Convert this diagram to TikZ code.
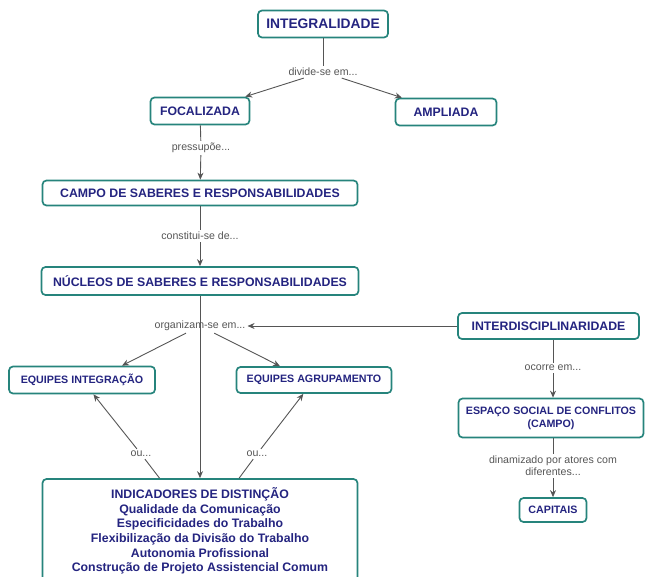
\documentclass[tikz,border=0pt]{standalone}
\usepackage{fontspec}
\setmainfont{Liberation Sans}
\usetikzlibrary{arrows.meta}

\definecolor{boxline}{RGB}{38,132,124}
\definecolor{boxtext}{RGB}{36,36,128}
\definecolor{linkgray}{RGB}{85,85,85}

\begin{document}
\begin{tikzpicture}[x=1pt,y=-1pt,
    concept/.style={draw=boxline, line width=1.7pt, rounded corners=4pt, fill=white,
        text=boxtext, font=\fontsize{12.3}{14.6}\selectfont\bfseries, align=center,
        inner sep=0pt, minimum height=27pt},
    small/.style={font=\fontsize{10.7}{13}\selectfont\bfseries},
    linktext/.style={text=linkgray, font=\fontsize{10.6}{12}\selectfont, align=center, inner sep=2pt},
    link/.style={draw=linkgray, line width=0.9pt},
    arrow/.style={link, -{Stealth[length=7pt,width=6pt]}}]
        \useasboundingbox (0,0) rectangle (647,577);

        % concepts
        \node[concept, minimum width=130pt, font=\fontsize{13.8}{16}\selectfont\bfseries] (integ) at (323,24) {INTEGRALIDADE};
        \node[concept, minimum width=99pt] (foc) at (200,111) {FOCALIZADA};
        \node[concept, minimum width=101pt] (amp) at (446,112) {AMPLIADA};
        \node[concept, minimum width=315pt, minimum height=25pt] (campo) at (200,193) {CAMPO DE SABERES E RESPONSABILIDADES};
        \node[concept, minimum width=317pt, minimum height=28pt] (nucleos) at (200,281) {N\'UCLEOS DE SABERES E RESPONSABILIDADES};
        \node[concept, small, minimum width=146pt] (eqint) at (82,380) {EQUIPES INTEGRA\c{C}\~AO};
        \node[concept, small, minimum width=155pt, minimum height=26pt] (eqagr) at (314,380) {EQUIPES AGRUPAMENTO};
        \node[concept, minimum width=315pt, minimum height=104pt] (indic) at (200,531)
            {INDICADORES DE DISTIN\c{C}\~AO\\Qualidade da Comunica\c{c}\~ao\\Especificidades do Trabalho\\
             Flexibiliza\c{c}\~ao da Divis\~ao do Trabalho\\Autonomia Profissional\\Constru\c{c}\~ao de Projeto Assistencial Comum};
        \node[concept, minimum width=181pt, minimum height=26pt] (inter) at (548.5,326) {INTERDISCIPLINARIDADE};
        \node[concept, small, minimum width=185pt, minimum height=39pt] (espaco) at (551,418) {ESPA\c{C}O SOCIAL DE CONFLITOS\\(CAMPO)};
        \node[concept, small, minimum width=67pt, minimum height=24pt] (cap) at (553,510) {CAPITAIS};

        % linking phrases
        \node[linktext] (divide) at (323,72) {divide-se em...};
        \node[linktext] (press) at (201,148) {pressup\~oe...};
        \node[linktext] (const) at (200,236) {constitui-se de...};
        \node[linktext] (organ) at (200,326) {organizam-se em...};
        \node[linktext] (ou1) at (141,454) {ou...};
        \node[linktext] (ou2) at (257,454) {ou...};
        \node[linktext] (ocorre) at (553,368) {ocorre em...};
        \node[linktext] (dinam) at (553,466) {dinamizado por atores com\\diferentes...};

        % links
        \draw[link] (integ) -- (divide);
        \draw[arrow] (divide) -- (foc);
        \draw[arrow] (divide) -- (amp);

        \draw[link] (foc) -- (press);
        \draw[arrow] (press) -- (campo);

        \draw[link] (campo) -- (const);
        \draw[arrow] (const) -- (nucleos);

        \draw[link] (nucleos.south) -- (organ.center);
        \draw[arrow] (organ.center) -- (indic.north);
        \draw[arrow] (organ) -- ([xshift=40pt]eqint.north);
        \draw[arrow] (organ) -- ([xshift=-34pt]eqagr.north);
        \draw[arrow] (inter.west) -- (organ.east);

        \draw[link] (indic) -- (ou1);
        \draw[arrow] (ou1) -- (eqint);
        \draw[link] (indic) -- (ou2);
        \draw[arrow] (ou2) -- (eqagr);

        \draw[link] (ocorre |- inter.south) -- (ocorre);
        \draw[arrow] (ocorre) -- (ocorre |- espaco.north);
        \draw[link] (dinam |- espaco.south) -- (dinam);
        \draw[arrow] (dinam) -- (cap);
    \end{tikzpicture}
\end{document}
